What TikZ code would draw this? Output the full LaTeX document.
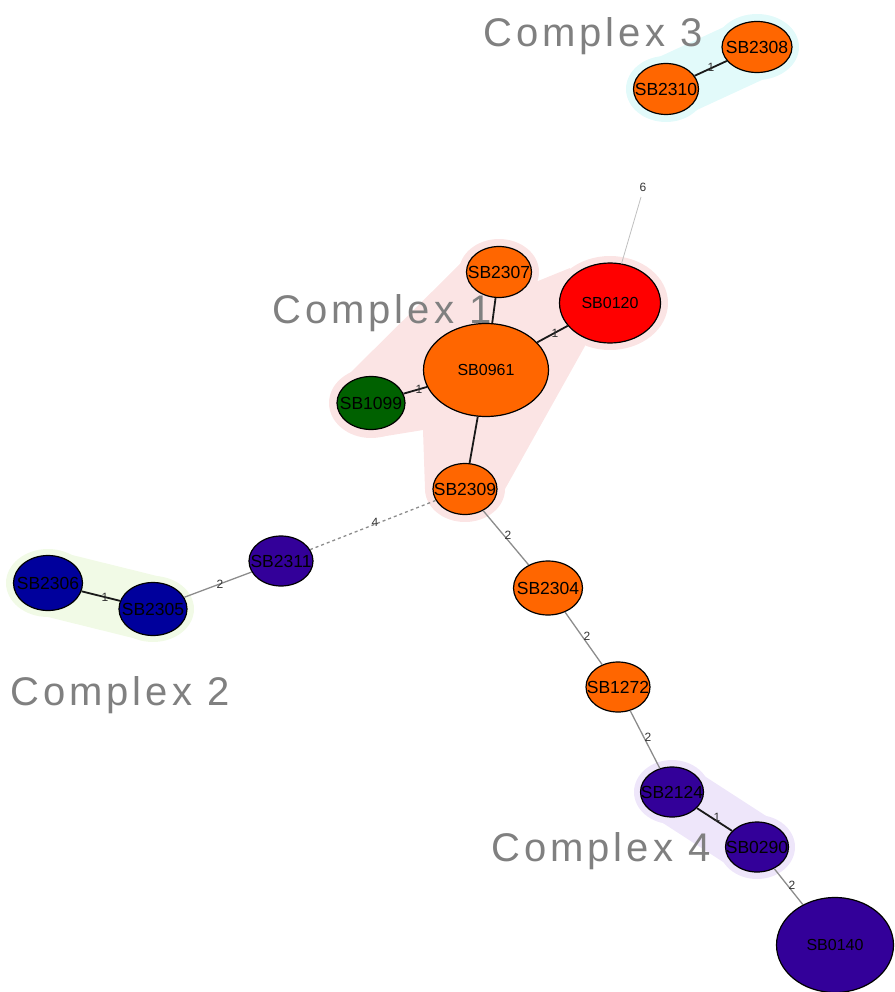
\documentclass[tikz,border=0pt]{standalone}
\usepackage{fontspec}
\setmainfont{Liberation Sans}
\newfontfamily\cplxfont[LetterSpace=10]{Liberation Sans}
\usetikzlibrary{shapes.geometric}

\definecolor{orng}{HTML}{FF6600}
\definecolor{rd}{HTML}{FF0000}
\definecolor{grn}{HTML}{006100}
\definecolor{blu}{HTML}{00009C}
\definecolor{indg}{HTML}{330099}
\definecolor{hullA}{HTML}{FBE4E4}
\definecolor{hullB}{HTML}{F1FAE6}
\definecolor{hullC}{HTML}{E2FAFA}
\definecolor{hullD}{HTML}{EEE6FA}
\definecolor{cplxgray}{HTML}{808080}

% centred label of zero width, so the ellipse keeps its given size
\newcommand{\stname}[1]{\makebox[0pt][c]{#1}}

\pgfdeclarelayer{hulls}
\pgfdeclarelayer{tags}
\pgfsetlayers{hulls,tags,main}

\begin{document}
\begin{tikzpicture}[x=1pt,y=-1pt,
  sb/.style={ellipse, draw=black, line width=1.2pt, inner sep=0pt,
    font=\fontsize{17.5}{17.5}\selectfont, text=black},
  big/.style={font=\fontsize{16}{16}\selectfont},
  strong/.style={line width=1.8pt, draw=black!90},
  weak/.style={line width=1.3pt, draw=black!45},
  faint/.style={line width=0.8pt, draw=black!25},
  elab/.style={font=\fontsize{12}{12}\selectfont, text=black!80, inner sep=0pt},
  cplx/.style={font=\cplxfont\fontsize{40}{40}\selectfont, text=cplxgray,
    anchor=base west, inner sep=0pt}
]
\useasboundingbox (0,0) rectangle (894,992);

% ---- sequence types ----
\node[sb, fill=orng, minimum width=70pt, minimum height=51pt] (sb2308) at (757,47) {\stname{SB2308}};
\node[sb, fill=orng, minimum width=65pt, minimum height=51pt] (sb2310) at (666,89) {\stname{SB2310}};
\node[sb, fill=orng, minimum width=65pt, minimum height=51pt] (sb2307) at (499,272) {\stname{SB2307}};
\node[sb, big, fill=rd,   minimum width=101pt, minimum height=80pt] (sb0120) at (610,303) {\stname{SB0120}};
\node[sb, big, fill=orng, minimum width=125pt, minimum height=93pt] (sb0961) at (486,370) {\stname{SB0961}};
\node[sb, fill=grn,  minimum width=68pt, minimum height=53pt] (sb1099) at (371,403) {\stname{SB1099}};
\node[sb, fill=orng, minimum width=64pt, minimum height=51pt] (sb2309) at (465,489) {\stname{SB2309}};
\node[sb, fill=indg, minimum width=64pt, minimum height=50pt] (sb2311) at (281,561) {\stname{SB2311}};
\node[sb, fill=blu,  minimum width=69pt, minimum height=55pt] (sb2306) at (48,583) {\stname{SB2306}};
\node[sb, fill=blu,  minimum width=68pt, minimum height=53pt] (sb2305) at (153,609) {\stname{SB2305}};
\node[sb, fill=orng, minimum width=69pt, minimum height=54pt] (sb2304) at (548,588) {\stname{SB2304}};
\node[sb, fill=orng, minimum width=64pt, minimum height=50pt] (sb1272) at (618,687) {\stname{SB1272}};
\node[sb, fill=indg, minimum width=63pt, minimum height=50pt] (sb2124) at (672,792) {\stname{SB2124}};
\node[sb, fill=indg, minimum width=63pt, minimum height=50pt] (sb0290) at (757,847) {\stname{SB0290}};
\node[sb, big, fill=indg, minimum width=117pt, minimum height=95pt] (sb0140) at (835,945) {\stname{SB0140}};
\coordinate (tip6) at (641,197);

% ---- clonal complex backgrounds ----
\begin{pgfonlayer}{hulls}
  % Complex 1
  \fill[hullA] (499,272) ellipse [x radius=40pt, y radius=33pt];
  \fill[hullA] (610,303) ellipse [x radius=58pt, y radius=47pt];
  \fill[hullA] (371,403) ellipse [x radius=42pt, y radius=35pt];
  \fill[hullA] (465,489) ellipse [x radius=40pt, y radius=33pt];
  \fill[hullA] (345,378) -- (462,262) -- (538,281) -- (570,268) -- (585,346)
     -- (505,489) -- (425,489) -- (423,430) -- (380,437) -- cycle;
  % Complex 3
  \fill[hullC] (sb2308.center) ellipse [x radius=42pt, y radius=33pt];
  \fill[hullC] (sb2310.center) ellipse [x radius=40pt, y radius=33pt];
  \draw[hullC, line width=64pt] (sb2308.center) -- (sb2310.center);
  % Complex 2
  \fill[hullB] (sb2306.center) ellipse [x radius=42pt, y radius=34pt];
  \fill[hullB] (sb2305.center) ellipse [x radius=41pt, y radius=33pt];
  \draw[hullB, line width=66pt] (sb2306.center) -- (sb2305.center);
  % Complex 4
  \fill[hullD] (sb2124.center) ellipse [x radius=38pt, y radius=32pt];
  \fill[hullD] (sb0290.center) ellipse [x radius=38pt, y radius=32pt];
  \draw[hullD, line width=62pt] (sb2124.center) -- (sb0290.center);
\end{pgfonlayer}

\begin{pgfonlayer}{tags}
  \node[cplx] (c1) at (272,323) {Complex 1};
  \node[cplx] (c2) at (10,705) {Complex 2};
  \node[cplx] (c3) at (483,47) {Complex 3};
  \node[cplx] (c4) at (491,861) {Complex 4};
\end{pgfonlayer}

% ---- links ----
\draw[strong] (sb2308) -- (sb2310);
\draw[strong] (sb0961) -- (sb2307);
\draw[strong] (sb0961) -- (sb0120);
\draw[strong] (sb0961) -- (sb1099);
\draw[strong] (sb0961) -- (sb2309);
\draw[weak, dashed, dash pattern=on 3pt off 3pt] (sb2309) -- (sb2311);
\draw[weak] (sb2311) -- (sb2305);
\draw[strong] (sb2305) -- (sb2306);
\draw[weak] (sb2309) -- (sb2304);
\draw[weak] (sb2304) -- (sb1272);
\draw[weak] (sb1272) -- (sb2124);
\draw[strong] (sb2124) -- (sb0290);
\draw[weak] (sb0290) -- (sb0140);
\draw[faint] (sb0120) -- (tip6);

% ---- link weights ----
\node[elab] (w1) at (711,67) {1};
\node[elab] (w2) at (643,187) {6};
\node[elab] (w3) at (555,333) {1};
\node[elab] (w4) at (419,389) {1};
\node[elab] (w5) at (375,522) {4};
\node[elab] (w6) at (220,584) {2};
\node[elab] (w7) at (105,597) {1};
\node[elab] (w8) at (508,535) {2};
\node[elab] (w9) at (587,636) {2};
\node[elab] (w10) at (648,737) {2};
\node[elab] (w11) at (717,817) {1};
\node[elab] (w12) at (792,885) {2};
\end{tikzpicture}
\end{document}
